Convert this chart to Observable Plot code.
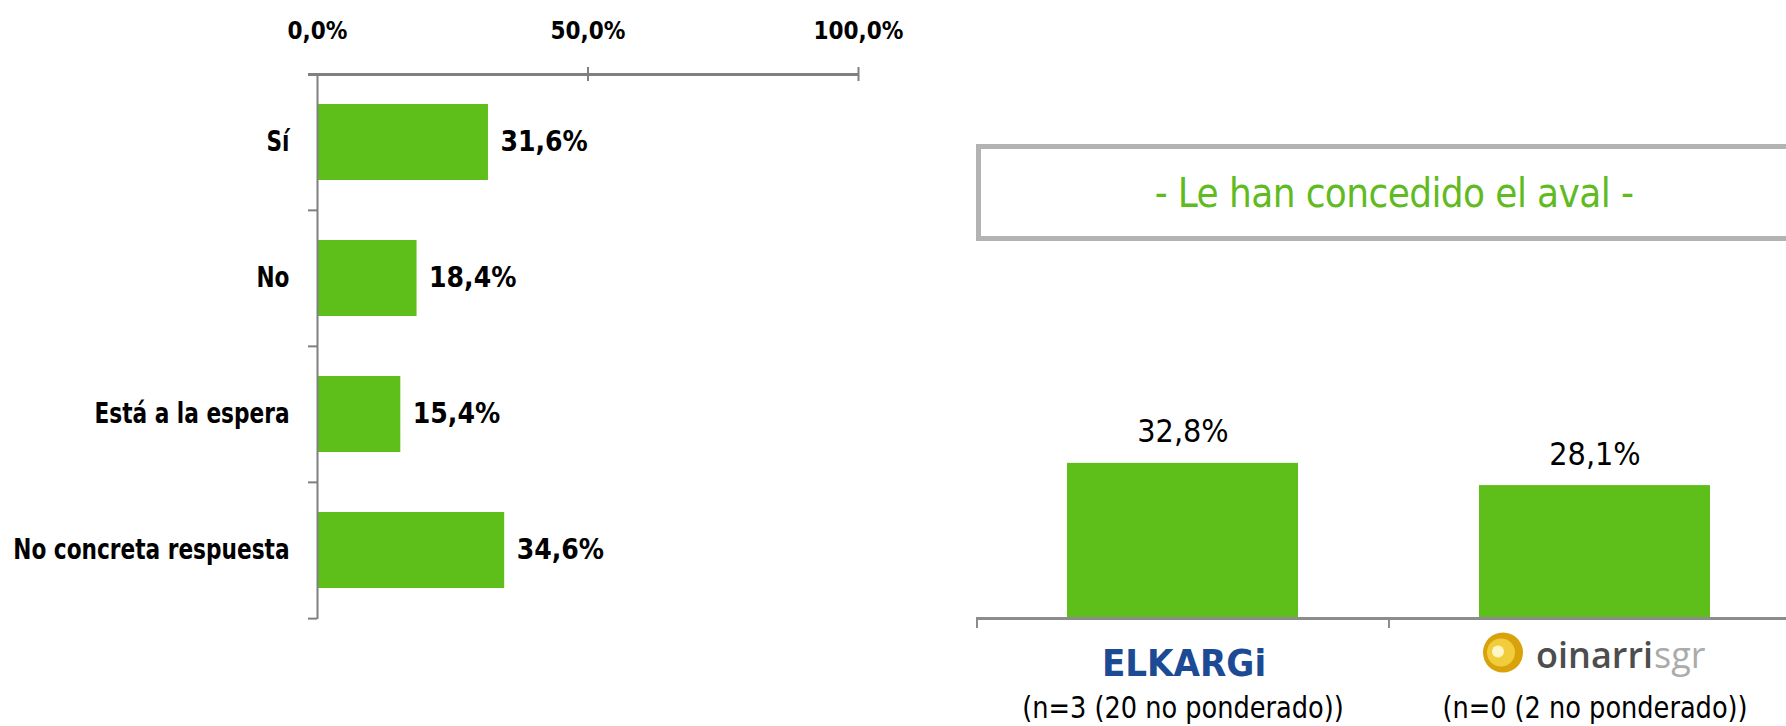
<!DOCTYPE html>
<html><head><meta charset="utf-8">
<script src="https://cdn.jsdelivr.net/npm/d3@7"></script>
<script src="https://cdn.jsdelivr.net/npm/@observablehq/plot@0.6"></script>
<style>
html,body{margin:0;padding:0;background:#fff;}
#wrap{position:relative;width:1786px;height:726px;overflow:hidden;background:#fff;}
#left{position:absolute;left:0;top:0;}
#right{position:absolute;left:960px;top:0;}
#titlebox{position:absolute;left:976px;top:144px;width:836px;height:97px;box-sizing:border-box;border:5px solid #b3b3b3;
 display:flex;align-items:center;justify-content:center;font-family:"DejaVu Sans Condensed","DejaVu Sans",sans-serif;
 font-size:40px;letter-spacing:-0.6px;color:#5fbb1f;}
svg{overflow:visible;}
</style></head>
<body><div id="wrap"><div id="left"></div><div id="right"></div><div id="titlebox">- Le han concedido el aval -</div></div>
<script>
// ---- data ----
const categories = ["Sí", "No", "Está a la espera", "No concreta respuesta"];
const shares = [0.316, 0.184, 0.154, 0.346];
const xTicks = [0, 0.5, 1];
const banks = ["ELKARGI", "Oinarri"];
const bankShares = [0.328, 0.281];
const bankNotes = ["(n=3 (20 no ponderado))", "(n=0 (2 no ponderado))"];

const green = "#5ebf1a";
const axisGray = "#808080";
const font = '"DejaVu Sans Condensed","DejaVu Sans",sans-serif';
const fmt = d => (d * 100).toFixed(1).replace(".", ",") + "%";

// horizontally condense a group of texts (mimics the narrow typeface of the original)
function condense(root, selector, k) {
  root.querySelectorAll(selector).forEach(t => {
    const len = t.getComputedTextLength();
    t.setAttribute("textLength", (len * k).toFixed(1));
    t.setAttribute("lengthAdjust", "spacingAndGlyphs");
  });
}

// ---- left chart ----
const rows = categories.map((c, i) => ({cat: c, value: shares[i]}));
const LW = 960, LH = 726, LT = 74, LB = 107, LL = 317, LR = 102;
const step = (LH - LT - LB) / categories.length;
const left = Plot.plot({
  width: LW, height: LH, marginTop: LT, marginBottom: LB, marginLeft: LL, marginRight: LR,
  style: {fontFamily: font, background: "white"},
  x: {domain: [0, 1], label: null},
  y: {domain: categories, paddingInner: 0.44, paddingOuter: 0.22, label: null},
  marks: [
    Plot.barX(rows, {x: "value", y: "cat", fill: green}),
    Plot.text(rows, {x: "value", y: "cat", text: d => fmt(d.value), textAnchor: "start", dx: 12,
      fontSize: 28, fontWeight: "bold", fill: "#000"}),
    Plot.axisX({anchor: "top", ticks: xTicks, tickFormat: fmt, tickSize: 0, tickPadding: 36, label: null,
      fontSize: 24, fontWeight: "bold", fill: "#000"}),
    Plot.axisY({anchor: "left", tickSize: 0, tickPadding: 28, label: null, fontSize: 28, fontWeight: "bold", fill: "#000"}),
    Plot.ruleX([0], {stroke: axisGray, strokeWidth: 2}),
    Plot.ruleY([categories[0]], {y: d => d, x1: 0, x2: 1, dy: -step / 2, insetLeft: -9, stroke: axisGray, strokeWidth: 3}),
    Plot.ruleY(categories.slice(1), {y: d => d, x1: 0, x2: 0, dy: -step / 2, insetLeft: -9, stroke: axisGray, strokeWidth: 2}),
    Plot.ruleY([categories[categories.length - 1]], {y: d => d, x1: 0, x2: 0, dy: step / 2, insetLeft: -9, stroke: axisGray, strokeWidth: 2}),
    Plot.tickX(xTicks.slice(1), {x: d => d, insetTop: -7, insetBottom: LH - LT - LB - 7, stroke: axisGray, strokeWidth: 2})
  ]
});
document.getElementById("left").appendChild(left);
condense(left, 'g[aria-label="y-axis tick label"] text', 0.86);

// ---- right chart ----
const brows = banks.map((b, i) => ({bank: b, value: bankShares[i], note: bankNotes[i]}));
const RW = 826, RH = 726, RT = 145, RB = 108, RL = 16, RR = -14;
const bstep = (RW - RL - RR) / banks.length;
const right = Plot.plot({
  width: RW, height: RH, marginTop: RT, marginBottom: RB, marginLeft: RL, marginRight: RR,
  style: {fontFamily: font, background: "transparent"},
  x: {domain: banks, paddingInner: 0.44, paddingOuter: 0.22, axis: null},
  y: {domain: [0, 1], axis: null},
  marks: [
    Plot.barY(brows, {x: "bank", y: "value", fill: green}),
    Plot.text(brows, {x: "bank", y: "value", text: d => fmt(d.value), lineAnchor: "bottom", dy: -21,
      fontSize: 32, fill: "#000"}),
    Plot.ruleY([0], {stroke: "#8c8c8c", strokeWidth: 3}),
    Plot.tickX(banks, {x: d => d, dx: -bstep / 2, insetTop: RH - RT - RB, insetBottom: -10, stroke: "#8c8c8c", strokeWidth: 2}),
    // ELKARGI logo (text)
    Plot.text([brows[0]], {x: "bank", text: () => "ELKARGi", frameAnchor: "bottom", lineAnchor: "bottom", dy: 57, dx: 1,
      fontFamily: '"DejaVu Sans Condensed",sans-serif', fontWeight: 900, fontSize: 38, fill: "#1c4a94"}),
    // Oinarri logo
    Plot.dot([brows[1]], {x: "bank", frameAnchor: "bottom", dy: 34, dx: -92, r: 20, fill: "#d9a20b"}),
    Plot.dot([brows[1]], {x: "bank", frameAnchor: "bottom", dy: 34, dx: -94, r: 14, fill: "#f1cc3c"}),
    Plot.dot([brows[1]], {x: "bank", frameAnchor: "bottom", dy: 33, dx: -97, r: 6, fill: "#fff6c6"}),
    Plot.text([brows[1]], {x: "bank", text: () => "oinarri", frameAnchor: "bottom", lineAnchor: "bottom", dy: 49, dx: 58,
      textAnchor: "end", fontFamily: '"Open Sans",sans-serif', fontWeight: 600, fontSize: 36, fill: "#4d4d4d"}),
    Plot.text([brows[1]], {x: "bank", text: () => "sgr", frameAnchor: "bottom", lineAnchor: "bottom", dy: 49, dx: 59,
      textAnchor: "start", fontFamily: '"Open Sans",sans-serif', fontSize: 36, fill: "#ababab"}),
    Plot.text(brows, {x: "bank", text: "note", frameAnchor: "bottom", lineAnchor: "bottom", dy: 99,
      fontSize: 30, fill: "#000"})
  ]
});
document.getElementById("right").appendChild(right);
condense(right, 'g[aria-label="text"]:last-of-type text', 0.95);
</script>
</body></html>
